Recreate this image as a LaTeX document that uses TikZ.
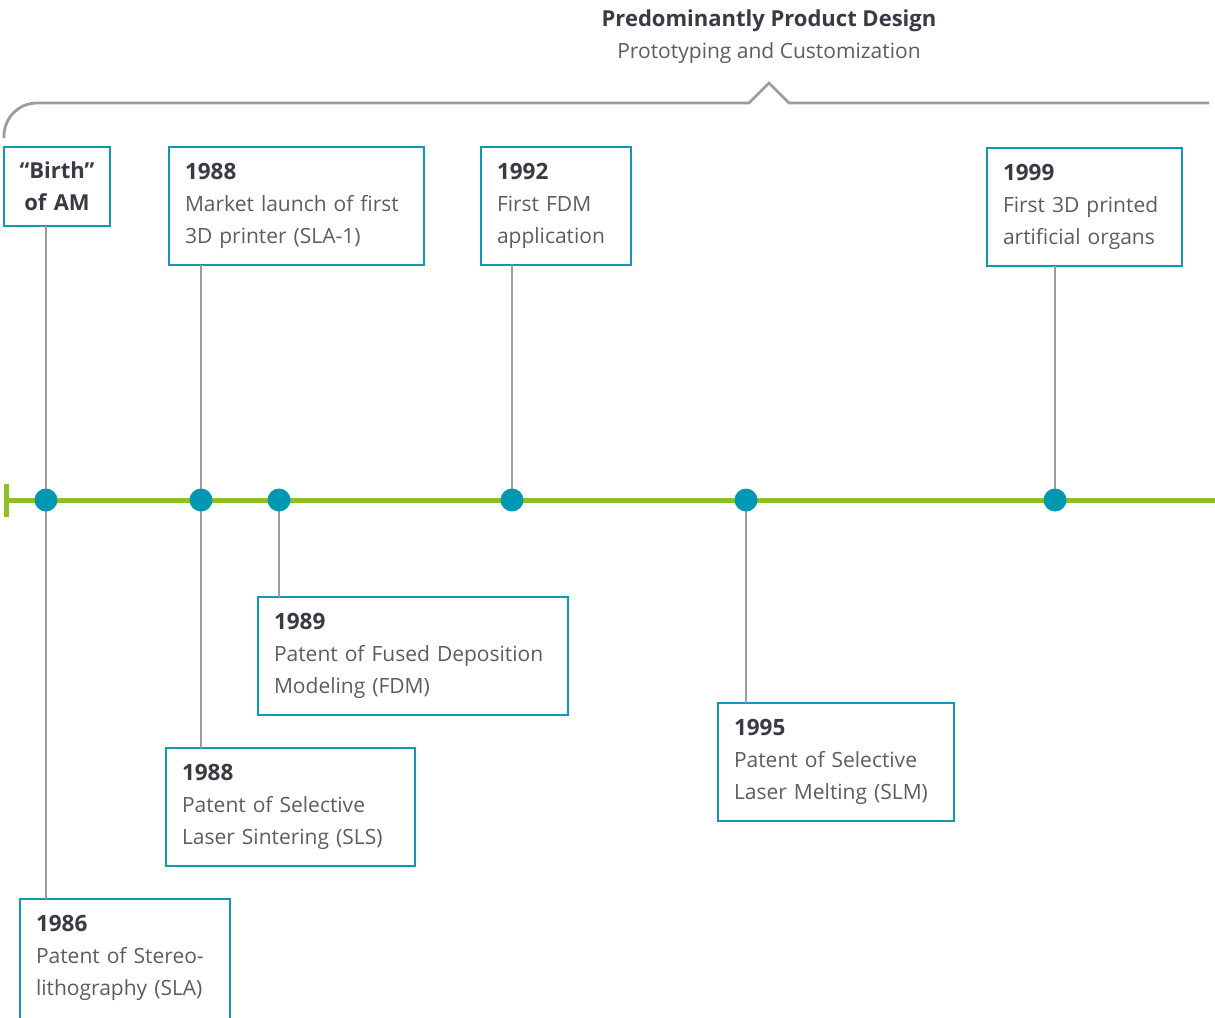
\documentclass[tikz,border=0pt]{standalone}
\usepackage{fontspec}
\setmainfont{Open Sans}
\definecolor{tealb}{HTML}{1199B2}
\definecolor{dotc}{HTML}{0097B2}
\definecolor{greenl}{HTML}{8CBF2A}
\definecolor{connc}{HTML}{9B9BA0}
\definecolor{yearc}{HTML}{3A3A44}
\definecolor{bodyc}{HTML}{5C5C64}
\newcommand{\yr}[1]{{\color{yearc}\fontsize{22.5}{32}\selectfont\bfseries #1}}
\begin{document}
\begin{tikzpicture}[x=1pt,y=-1pt,
  evbox/.style={draw=tealb, line width=2.5pt, rectangle, anchor=north west,
    inner xsep=16pt, inner ysep=0pt, outer sep=0pt, align=left, text=bodyc,
    font=\fontsize{21}{32}\selectfont, minimum height=118pt},
  frame/.style={draw=tealb, line width=2.5pt},
  conn/.style={draw=connc, line width=2.6pt},
  dot/.style={circle, fill=dotc, minimum size=23pt, inner sep=0pt},
  tline/.style={draw=greenl, line width=5pt},
  bracket/.style={draw=connc, line width=2.8pt},
]
\useasboundingbox (0,0) rectangle (1215,1017);
\fill[white] (0,0) rectangle (1215,1017);

% title
\node[font=\fontsize{22}{26}\selectfont\bfseries, text=yearc] (title) at (769,21) {Predominantly Product Design};
\node[font=\fontsize{21}{26}\selectfont, text=bodyc] (subtitle) at (769,53) {Prototyping and Customization};

% bracket
\draw[bracket] (4,138) -- (4,136) arc (180:270:33) -- (749,103) -- (769,83) -- (789,103) -- (1209,103);

% boxes
\node[evbox, inner xsep=0pt, minimum width=106pt, text width=106pt, align=center, minimum height=79pt, text=yearc, font=\fontsize{22}{32}\selectfont\bfseries] (birth) at (4,147) {``Birth''\\ of AM};
\node[evbox, minimum width=255pt, text width=223pt] (m1988) at (169,147) {\yr{1988}\\ Market launch of first\\ 3D printer (SLA-1)};
\node[evbox, minimum width=150pt, text width=118pt] (y1992) at (481,147) {\yr{1992}\\ First FDM\\ application};
\node[evbox, minimum width=195pt, text width=163pt] (y1999) at (987,148) {\yr{1999}\\ First 3D printed\\ artificial organs};
\node[evbox, minimum width=310pt, text width=278pt] (y1989) at (258,597) {\yr{1989}\\ Patent of Fused Deposition\\ Modeling (FDM)};
\node[evbox, minimum width=249pt, text width=217pt] (s1988) at (166,748) {\yr{1988}\\ Patent of Selective\\ Laser Sintering (SLS)};
\node[evbox, minimum width=236pt, text width=204pt] (y1995) at (718,703) {\yr{1995}\\ Patent of Selective\\ Laser Melting (SLM)};
\node[evbox, draw=none, minimum width=210pt, text width=178pt] (y1986) at (20,899) {\yr{1986}\\ Patent of Stereo-\\ lithography (SLA)};
\draw[frame] (y1986.north west) rectangle ++(210,130);

% dot positions
\coordinate (p1) at (46,500);
\coordinate (p2) at (201,500);
\coordinate (p3) at (279,500);
\coordinate (p4) at (512,500);
\coordinate (p5) at (746,500);
\coordinate (p6) at (1055,500);

% connectors
\draw[conn] (p1 |- birth.south) -- (p1 |- y1986.north);
\draw[conn] (p2 |- m1988.south) -- (p2 |- s1988.north);
\draw[conn] (p3) -- (p3 |- y1989.north);
\draw[conn] (p4 |- y1992.south) -- (p4);
\draw[conn] (p5) -- (p5 |- y1995.north);
\draw[conn] (p6 |- y1999.south) -- (p6);

% timeline
\coordinate (tstart) at (6,500);
\coordinate (tend) at (1215,500);
\draw[tline] (tstart) -- (tend);
\draw[tline] (6,484) -- (6,517);

% dots
\node[dot] (d1) at (p1) {};
\node[dot] (d2) at (p2) {};
\node[dot] (d3) at (p3) {};
\node[dot] (d4) at (p4) {};
\node[dot] (d5) at (p5) {};
\node[dot] (d6) at (p6) {};
\end{tikzpicture}
\end{document}
